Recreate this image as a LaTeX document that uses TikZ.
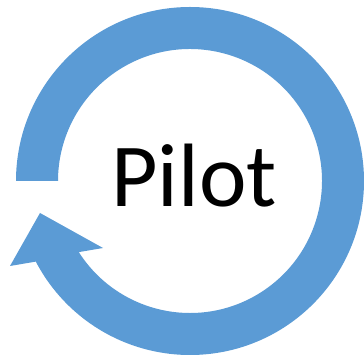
\documentclass[tikz,border=0pt]{standalone}
\usepackage{fontspec}
\setmainfont{Carlito}
\usepackage{tikz}
\usetikzlibrary{calc}
\begin{document}
\begin{tikzpicture}[x=1pt,y=1pt,
  ring/.style={fill=cycleblue,draw=none},
  title/.style={anchor=base,font=\fontsize{90}{100}\selectfont,text=black,inner sep=0pt}]
\definecolor{cycleblue}{RGB}{91,155,213}
\useasboundingbox (0,0) rectangle (364,358);
\coordinate (c) at (190,177);
% ring with the arrow head at the lower left
\path[ring] ($(c)+(180:174)$) arc[start angle=180,end angle=-152.4,radius=174]
  -- (10,92) -- (40,145) -- (103,110)
  -- ($(c)+(-147.4:132)$) arc[start angle=-147.4,end angle=180,radius=132] -- cycle;
\node[title] (pilot) at (194,151) {Pilot};
\end{tikzpicture}
\end{document}
